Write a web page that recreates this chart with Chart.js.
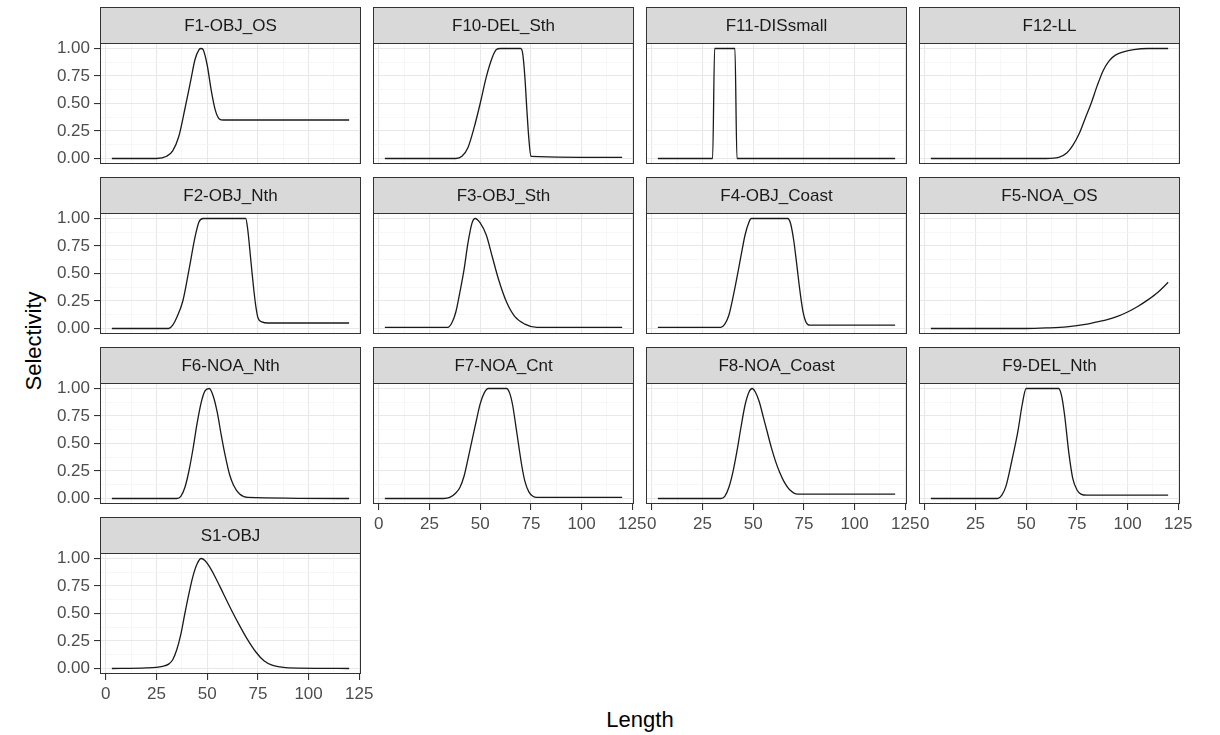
<!DOCTYPE html>
<html lang="en">
<head>
    <meta charset="UTF-8">
    <title>Selectivity by fleet</title>
    <script src="https://cdn.jsdelivr.net/npm/chart.js"></script>
    <style>
        body {
            margin: 0;
            padding: 0;
            background-color: #ffffff;
            font-family: "Liberation Sans", Arial, sans-serif;
        }
        #page {
            position: relative;
            width: 1220px;
            height: 735px;
            overflow: hidden;
        }
        .panel {
            position: absolute;
        }
        .axis-title {
            position: absolute;
            font-size: 22px;
            color: #000000;
            white-space: nowrap;
        }
        #xTitle {
            left: 640px;
            top: 720px;
            transform: translate(-50%, -50%);
        }
        #yTitle {
            left: 34px;
            top: 341px;
            transform: translate(-50%, -50%) rotate(-90deg);
        }
    </style>
</head>
<body>
<div id="page">
    <div class="axis-title" id="xTitle">Length</div>
    <div class="axis-title" id="yTitle">Selectivity</div>
</div>
<script>
    // facet names, in the order ggplot lays them out
    const panelNames = ['F1-OBJ_OS', 'F10-DEL_Sth', 'F11-DISsmall', 'F12-LL',
        'F2-OBJ_Nth', 'F3-OBJ_Sth', 'F4-OBJ_Coast', 'F5-NOA_OS',
        'F6-NOA_Nth', 'F7-NOA_Cnt', 'F8-NOA_Coast', 'F9-DEL_Nth', 'S1-OBJ'];

    // axis ticks
    const xTicks = [0, 25, 50, 75, 100, 125];
    const yTicks = [0, 0.25, 0.5, 0.75, 1];
    const yTickLabels = ['0.00', '0.25', '0.50', '0.75', '1.00'];

    // selectivity curves (length, selectivity)
    const f1Len = [3, 25, 30, 33, 36, 39, 42, 44, 46, 47, 48, 50, 52, 54, 56, 58, 60, 120];
    const f1Sel = [0, 0, 0.02, 0.07, 0.2, 0.45, 0.72, 0.9, 0.99, 1.0, 0.99, 0.85, 0.62, 0.44, 0.36, 0.35, 0.35, 0.35];

    const f10Len = [3, 38, 41, 44, 47, 50, 53, 56, 58, 60, 70, 71, 72, 73, 74, 75, 120];
    const f10Sel = [0, 0, 0.02, 0.1, 0.28, 0.5, 0.74, 0.92, 0.99, 1.0, 1.0, 0.95, 0.75, 0.45, 0.18, 0.02, 0.01];

    const f11Len = [3, 30, 31, 41, 42, 120];
    const f11Sel = [0, 0, 1, 1, 0, 0];

    const f12Len = [3, 60, 66, 70, 73, 76, 79, 82, 85, 88, 91, 94, 98, 103, 110, 120];
    const f12Sel = [0, 0, 0.01, 0.05, 0.12, 0.22, 0.36, 0.5, 0.66, 0.8, 0.89, 0.94, 0.97, 0.99, 1.0, 1.0];

    const f2Len = [3, 31, 33, 35, 38, 41, 44, 46, 48, 69, 70, 71, 72, 73, 74, 75, 77, 80, 120];
    const f2Sel = [0, 0, 0.03, 0.1, 0.25, 0.53, 0.83, 0.97, 1.0, 1.0, 0.9, 0.72, 0.53, 0.35, 0.2, 0.1, 0.06, 0.05, 0.05];

    const f3Len = [3, 34, 36, 38, 40, 42, 44, 46, 47.5, 50, 53, 56, 59, 63, 67, 72, 78, 120];
    const f3Sel = [0.01, 0.01, 0.05, 0.15, 0.33, 0.53, 0.78, 0.96, 1.0, 0.96, 0.85, 0.65, 0.45, 0.24, 0.11, 0.04, 0.01, 0.01];

    const f4Len = [3, 34, 36, 38, 41, 44, 46, 48, 49, 67, 68.5, 70, 71.5, 73, 74.5, 76, 78, 80, 120];
    const f4Sel = [0.01, 0.01, 0.04, 0.12, 0.37, 0.66, 0.85, 0.97, 1.0, 1.0, 0.95, 0.8, 0.58, 0.35, 0.16, 0.06, 0.03, 0.03, 0.03];

    const f5Len = [3, 50, 60, 70, 80, 85, 90, 95, 100, 105, 110, 115, 120];
    const f5Sel = [0, 0, 0.005, 0.015, 0.04, 0.06, 0.08, 0.11, 0.15, 0.2, 0.26, 0.33, 0.42];

    const f6Len = [3, 35, 37, 39, 41, 43, 45, 47, 49, 51, 53, 55, 57, 59, 61, 63, 66, 70, 120];
    const f6Sel = [0, 0, 0.02, 0.1, 0.25, 0.45, 0.68, 0.87, 0.98, 1.0, 0.93, 0.78, 0.57, 0.38, 0.22, 0.12, 0.04, 0.01, 0];

    const f7Len = [3, 32, 35, 38, 40, 42, 44, 46, 48, 50, 52, 54, 63, 64.5, 66, 67.5, 69, 70.5, 72, 74, 76, 78, 120];
    const f7Sel = [0, 0, 0.01, 0.05, 0.1, 0.2, 0.36, 0.53, 0.7, 0.86, 0.96, 1.0, 1.0, 0.96, 0.85, 0.67, 0.48, 0.3, 0.16, 0.06, 0.02, 0.01, 0.01];

    const f8Len = [3, 34, 36, 38, 40, 42, 44, 46, 48, 49.5, 51, 53, 55, 57, 59, 61, 63, 65, 68, 72, 120];
    const f8Sel = [0, 0, 0.02, 0.1, 0.24, 0.43, 0.65, 0.85, 0.97, 1.0, 0.97, 0.88, 0.74, 0.6, 0.46, 0.34, 0.24, 0.16, 0.08, 0.04, 0.04];

    const f9Len = [3, 36, 38, 40, 43, 46, 48, 50, 66, 67.5, 69, 71, 73, 75, 77, 80, 120];
    const f9Sel = [0, 0, 0.03, 0.11, 0.35, 0.62, 0.85, 1.0, 1.0, 0.93, 0.75, 0.42, 0.18, 0.08, 0.04, 0.03, 0.03];

    const s1Len = [3, 20, 28, 31, 33, 35, 37, 39, 41, 43, 45, 47, 49, 51, 54, 58, 62, 66, 70, 74, 78, 82, 86, 90, 120];
    const s1Sel = [0, 0.005, 0.02, 0.04, 0.08, 0.17, 0.31, 0.5, 0.68, 0.84, 0.95, 1.0, 0.98, 0.93, 0.83, 0.68, 0.53, 0.39, 0.26, 0.15, 0.07, 0.03, 0.015, 0.005, 0];

    const panelLen = [f1Len, f10Len, f11Len, f12Len, f2Len, f3Len, f4Len, f5Len, f6Len, f7Len, f8Len, f9Len, s1Len];
    const panelSel = [f1Sel, f10Sel, f11Sel, f12Sel, f2Sel, f3Sel, f4Sel, f5Sel, f6Sel, f7Sel, f8Sel, f9Sel, s1Sel];

    // facet grid geometry (px)
    const colLeft = [100, 373, 646, 919];
    const rowTop = [7, 177, 347, 517];
    const panelW = 261;
    const stripH = 36;
    const plotH = 121;
    const pad = 2;
    const FONT = '"Liberation Sans", Arial, sans-serif';

    // minor grid lines sit half way between the major ones
    function withMinor(major) {
        const out = [];
        major.forEach((v, i) => {
            out.push(v);
            if (i < major.length - 1) out.push((v + major[i + 1]) / 2);
        });
        return out;
    }
    const xGrid = withMinor(xTicks);
    const yGrid = withMinor(yTicks);

    // panel border + grey strip with the facet name
    const facetFrame = {
        id: 'facetFrame',
        afterDatasetsDraw(chart, args, opts) {
            const ctx = chart.ctx;
            const a = chart.chartArea;
            const top = a.top - stripH;
            ctx.save();
            ctx.strokeStyle = '#333333';
            ctx.lineWidth = 1;
            ctx.strokeRect(a.left + 0.5, a.top + 0.5, a.width - 1, a.height - 1);
            ctx.fillStyle = '#d9d9d9';
            ctx.fillRect(a.left, top, a.width, stripH);
            ctx.strokeRect(a.left + 0.5, top + 0.5, a.width - 1, stripH);
            ctx.fillStyle = '#1a1a1a';
            ctx.font = '17px ' + FONT;
            ctx.textAlign = 'center';
            ctx.textBaseline = 'middle';
            ctx.fillText(opts.title, (a.left + a.right) / 2, top + stripH / 2 + 1);
            ctx.restore();
        }
    };

    function isMajor(list, v) {
        return list.some(t => Math.abs(t - v) < 1e-9);
    }

    // keep every plot area the same size: no extra room for overhanging labels
    function noPadding(s) {
        s.paddingLeft = 0;
        s.paddingRight = 0;
        s.paddingTop = 0;
        s.paddingBottom = 0;
    }

    function makePanel(i) {
        const col = i % 4;
        const row = Math.floor(i / 4);
        const isLeft = col === 0;
        const isBottom = i === 12 || (row === 2 && col > 0);
        const L = isLeft ? 70 : 0;
        const B = isBottom ? 34 : 0;

        const w = pad + L + panelW + pad + (isBottom ? 14 : 0);
        const h = pad + stripH + plotH + B + pad;

        const holder = document.createElement('div');
        holder.className = 'panel';
        holder.style.left = (colLeft[col] - L - pad) + 'px';
        holder.style.top = (rowTop[row] - pad) + 'px';
        holder.style.width = w + 'px';
        holder.style.height = h + 'px';
        const canvas = document.createElement('canvas');
        canvas.width = w;
        canvas.height = h;
        holder.appendChild(canvas);
        document.getElementById('page').appendChild(holder);

        const points = panelLen[i].map((x, k) => ({ x: x, y: panelSel[i][k] }));

        new Chart(canvas.getContext('2d'), {
            type: 'line',
            data: {
                datasets: [{
                    data: points,
                    borderColor: '#1a1a1a',
                    borderWidth: 1.3,
                    pointRadius: 0,
                    fill: false,
                    cubicInterpolationMode: 'monotone'
                }]
            },
            options: {
                responsive: false,
                animation: false,
                devicePixelRatio: 1,
                layout: {
                    padding: {
                        left: pad,
                        right: pad + (isBottom ? 14 : 0),
                        top: pad + stripH,
                        bottom: pad
                    }
                },
                plugins: {
                    legend: { display: false },
                    tooltip: { enabled: false },
                    facetFrame: { title: panelNames[i] }
                },
                scales: {
                    x: {
                        type: 'linear',
                        min: -2.85,
                        max: 125.85,
                        afterBuildTicks: s => { s.ticks = xGrid.map(v => ({ value: v })); },
                        afterFit: s => { s.height = B; noPadding(s); },
                        border: { display: false },
                        grid: {
                            color: c => isMajor(xTicks, c.tick.value) ? '#e8e8e8' : '#f3f3f3',
                            lineWidth: c => isMajor(xTicks, c.tick.value) ? 1.1 : 0.7,
                            tickColor: c => isMajor(xTicks, c.tick.value) ? '#333333' : 'rgba(0,0,0,0)',
                            drawTicks: isBottom,
                            tickLength: 6
                        },
                        ticks: {
                            display: isBottom,
                            autoSkip: false,
                            maxRotation: 0,
                            padding: 4,
                            color: '#4d4d4d',
                            font: { family: FONT, size: 17 },
                            callback: v => isMajor(xTicks, v) ? String(v) : ''
                        }
                    },
                    y: {
                        type: 'linear',
                        min: -0.05,
                        max: 1.05,
                        afterBuildTicks: s => { s.ticks = yGrid.map(v => ({ value: v })); },
                        afterFit: s => { s.width = L; noPadding(s); },
                        border: { display: false },
                        grid: {
                            color: c => isMajor(yTicks, c.tick.value) ? '#e8e8e8' : '#f3f3f3',
                            lineWidth: c => isMajor(yTicks, c.tick.value) ? 1.1 : 0.7,
                            tickColor: c => isMajor(yTicks, c.tick.value) ? '#333333' : 'rgba(0,0,0,0)',
                            drawTicks: isLeft,
                            tickLength: 6
                        },
                        ticks: {
                            display: isLeft,
                            autoSkip: false,
                            padding: 4,
                            color: '#4d4d4d',
                            font: { family: FONT, size: 17 },
                            callback: v => {
                                const k = yTicks.findIndex(t => Math.abs(t - v) < 1e-9);
                                return k >= 0 ? yTickLabels[k] : '';
                            }
                        }
                    }
                }
            },
            plugins: [facetFrame]
        });
    }

    panelNames.forEach((name, i) => makePanel(i));
</script>
</body>
</html>
